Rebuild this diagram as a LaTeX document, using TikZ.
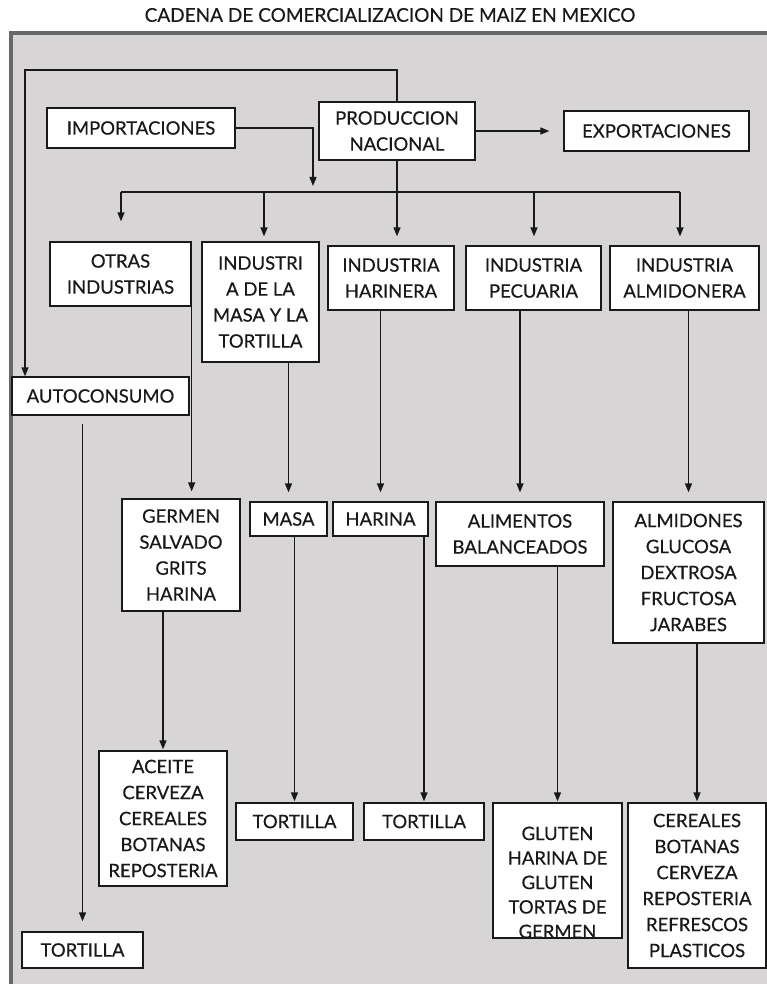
\documentclass[tikz,border=0pt]{standalone}
\usepackage{fontspec}
\setmainfont{Lato}[FakeBold=0.4]
\usepackage{xcolor}
\usetikzlibrary{arrows.meta}
\definecolor{fondo}{RGB}{215,213,213}
\definecolor{marco}{RGB}{105,105,105}
\definecolor{tinta}{RGB}{25,25,25}
\tikzset{
  caja/.style={draw=tinta, fill=white, line width=1.3pt, align=center, inner sep=0pt, text=tinta, font=\fontsize{18.5}{26}\selectfont},
  flecha/.style={-{Triangle[length=9pt,width=7pt]}, line width=1.4pt, draw=tinta},
}
\begin{document}
\begin{tikzpicture}[x=1pt,y=-1pt]
                \useasboundingbox (0,0) rectangle (767,984);
                \fill[fondo] (11,33) rectangle (767,984);
                \draw[marco, line width=4pt] (11,984) -- (11,33) -- (767,33);
                \node[text=tinta, font=\fontsize{19}{20}\selectfont] (titulo) at (390,15) {CADENA DE COMERCIALIZACION DE MAIZ EN MEXICO};

                \node[caja, minimum width=188pt, minimum height=40pt] (impo) at (141,128) {IMPORTACIONES};
                \node[caja, minimum width=156pt, minimum height=58pt] (prod) at (397,131) {PRODUCCION\\NACIONAL};
                \node[caja, minimum width=185pt, minimum height=40pt] (expo) at (656.5,131) {EXPORTACIONES};

                \node[caja, minimum width=141pt, minimum height=64pt] (otras) at (120.5,274) {OTRAS\\INDUSTRIAS};
                \node[caja, minimum width=117pt, minimum height=120pt] (imasa) at (260.5,302) {INDUSTRI\\A DE LA\\MASA Y LA\\TORTILLA};
                \node[caja, minimum width=126pt, minimum height=64pt] (iharina) at (391,278) {INDUSTRIA\\HARINERA};
                \node[caja, minimum width=135pt, minimum height=64pt] (ipecu) at (533.5,278) {INDUSTRIA\\PECUARIA};
                \node[caja, minimum width=149pt, minimum height=64pt] (ialmi) at (684.5,278) {INDUSTRIA\\ALMIDONERA};
                \node[caja, minimum width=177pt, minimum height=38pt] (auto) at (100.5,396) {AUTOCONSUMO};

                \node[caja, minimum width=118pt, minimum height=112pt] (germen) at (181,555) {GERMEN\\SALVADO\\GRITS\\HARINA};
                \node[caja, minimum width=77pt, minimum height=34pt] (masa) at (288.5,519) {MASA};
                \node[caja, minimum width=95pt, minimum height=34pt] (harina) at (380.5,519) {HARINA};
                \node[caja, minimum width=168pt, minimum height=64pt] (alim) at (520,534) {ALIMENTOS\\BALANCEADOS};
                \node[caja, minimum width=151pt, minimum height=141pt] (almid) at (688.5,572.5) {ALMIDONES\\GLUCOSA\\DEXTROSA\\FRUCTOSA\\JARABES};

                \node[caja, minimum width=128pt, minimum height=135pt] (aceite) at (163,818.5) {ACEITE\\CERVEZA\\CEREALES\\BOTANAS\\REPOSTERIA};
                \node[caja, minimum width=117pt, minimum height=37pt] (tort1) at (294.5,821.5) {TORTILLA};
                \node[caja, minimum width=120pt, minimum height=37pt] (tort2) at (424,821.5) {TORTILLA};
                \node[caja, minimum width=129pt, minimum height=135pt] (gluten) at (557.5,870.5) {};
                \begin{scope}
                \clip (gluten.south west) rectangle (gluten.north east);
                \node[caja, draw=none, fill=none, anchor=north, font=\fontsize{18.5}{24.5}\selectfont] (glutentxt) at (557.5,826) {GLUTEN\\HARINA DE\\GLUTEN\\TORTAS DE\\GERMEN};
                \end{scope}
                \node[caja, minimum width=138pt, minimum height=165pt] (cereal) at (697,885.5) {CEREALES\\BOTANAS\\CERVEZA\\REPOSTERIA\\REFRESCOS\\PLASTICOS};
                \node[caja, minimum width=121pt, minimum height=36pt] (tortauto) at (82.5,950) {TORTILLA};

                \coordinate (ret) at (25,70);
                \coordinate (bajaimpo) at (313,186);
                \coordinate (bus1) at (121,192);
                \coordinate (bus2) at (264,192);
                \coordinate (bus4) at (534,192);
                \coordinate (bus5) at (680,192);

                \draw[flecha] (prod.north) |- (ret) -- (ret |- auto.north);
                \draw[flecha, shorten >=14pt] (prod.east) -- (expo.west);
                \draw[flecha] (impo.east) -| (bajaimpo);
                \draw[line width=1.4pt, draw=tinta] (bus1) -- (bus5);
                \draw[flecha, shorten >=20pt] (bus1) -- (bus1 |- otras.north);
                \draw[flecha, shorten >=5pt] (bus2) -- (bus2 |- imasa.north);
                \draw[flecha, shorten >=9pt] (prod.south) -- (prod.south |- iharina.north);
                \draw[flecha, shorten >=9pt] (bus4) -- (bus4 |- ipecu.north);
                \draw[flecha, shorten >=9pt] (bus5) -- (bus5 |- ialmi.north);

                \draw[flecha, shorten >=7pt] (otras.south east) -- (otras.south east |- germen.north);
                \draw[flecha, shorten >=9pt] (masa.north |- imasa.south) -- (masa.north);
                \draw[flecha, shorten >=9pt] (harina.north |- iharina.south) -- (harina.north);
                \draw[flecha, shorten >=9pt] (alim.north |- ipecu.south) -- (alim.north);
                \draw[flecha, shorten >=9pt] (almid.north |- ialmi.south) -- (almid.north);
                \draw[flecha, shorten <=8pt, shorten >=10pt] (tortauto.north |- auto.south) -- (tortauto.north);

                \draw[flecha, shorten >=1pt] (aceite.north |- germen.south) -- (aceite.north);
                \draw[flecha, shorten >=1pt] (tort1.north |- masa.south) -- (tort1.north);
                \draw[flecha, shorten >=1pt] (tort2.north |- harina.south) -- (tort2.north);
                \draw[flecha, shorten >=1pt] (gluten.north |- alim.south) -- (gluten.north);
                \draw[flecha, shorten >=1pt] (cereal.north |- almid.south) -- (cereal.north);
            \end{tikzpicture}
\end{document}
